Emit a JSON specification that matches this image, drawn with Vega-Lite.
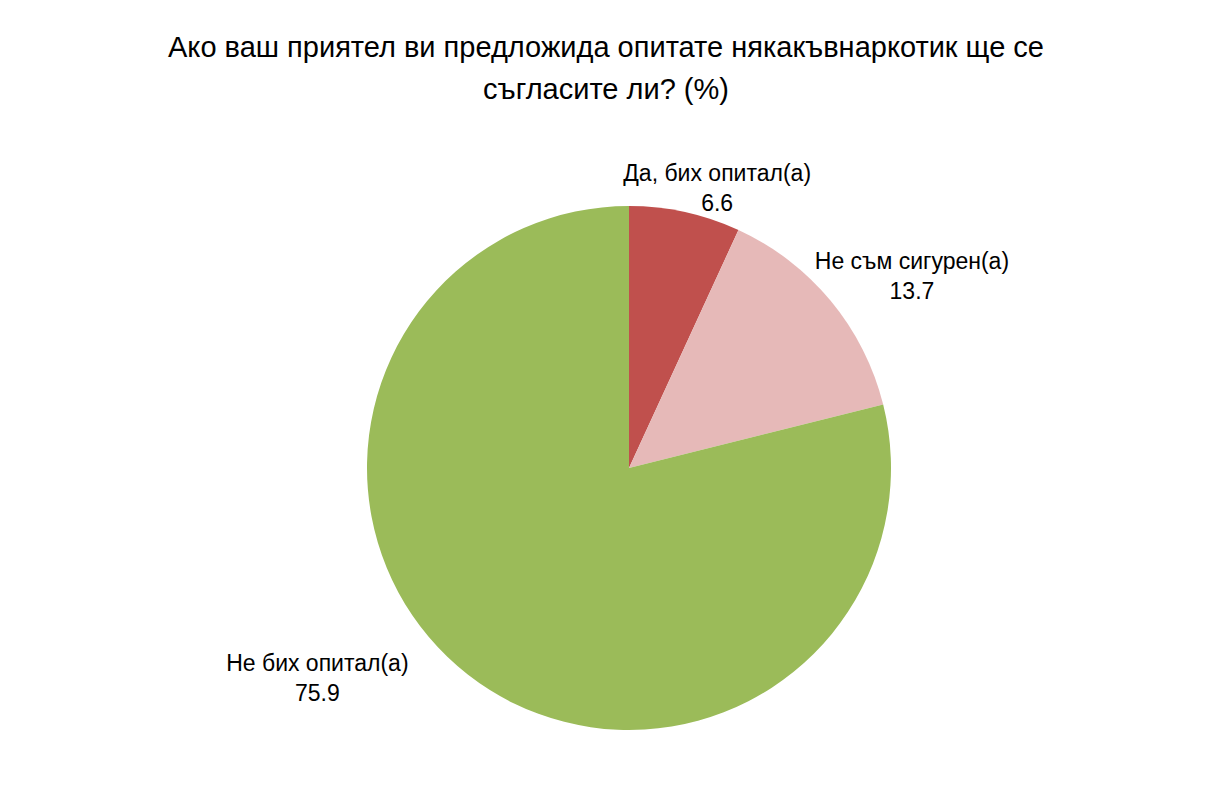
{
  "$schema": "https://vega.github.io/schema/vega-lite/v6.json",
  "width": 1166,
  "height": 646,
  "autosize": "none",
  "padding": {"left": 46, "top": 145, "right": 0, "bottom": 0},
  "background": "white",
  "config": {"view": {"stroke": null}, "font": "Liberation Sans"},
  "title": {
    "text": ["Ако ваш приятел ви предложида опитате някакъвнаркотик ще се", "съгласите ли? (%)"],
    "font": "Liberation Sans, Arial, sans-serif",
    "fontSize": 29,
    "fontWeight": "normal",
    "color": "black",
    "lineHeight": 42,
    "anchor": "middle",
    "dx": -23,
    "offset": 19
  },
  "data": {
    "values": [
      {"k": 1, "cat": "Да, бих опитал(а)", "value": 6.6, "label": "6.6"},
      {"k": 2, "cat": "Не съм сигурен(а)", "value": 13.7, "label": "13.7"},
      {"k": 3, "cat": "Не бих опитал(а)", "value": 75.9, "label": "75.9"}
    ]
  },
  "encoding": {
    "theta": {"field": "value", "type": "quantitative", "stack": true},
    "order": {"field": "k", "type": "quantitative"}
  },
  "layer": [
    {
      "mark": {"type": "arc", "outerRadius": 262},
      "encoding": {
        "color": {
          "field": "cat",
          "type": "nominal",
          "scale": {
            "domain": ["Да, бих опитал(а)", "Не съм сигурен(а)", "Не бих опитал(а)"],
            "range": ["#C0504D", "#E6B9B8", "#9BBB59"]
          },
          "legend": null
        }
      }
    },
    {
      "transform": [{"calculate": "[datum.cat, datum.label]", "as": "txt"}],
      "mark": {"type": "text", "radius": 300, "dx": 24, "dy": -1, "fontSize": 23, "lineHeight": 30, "color": "black", "font": "Liberation Sans, Arial, sans-serif", "baseline": "middle", "align": "center"},
      "encoding": {"text": {"condition": {"test": "datum.k == 1", "field": "txt"}, "value": ""}}
    },
    {
      "transform": [{"calculate": "[datum.cat, datum.label]", "as": "txt"}],
      "mark": {"type": "text", "radius": 300, "dx": 52, "dy": -15, "fontSize": 23, "lineHeight": 30, "color": "black", "font": "Liberation Sans, Arial, sans-serif", "baseline": "middle", "align": "center"},
      "encoding": {"text": {"condition": {"test": "datum.k == 2", "field": "txt"}, "value": ""}}
    },
    {
      "transform": [{"calculate": "[datum.cat, datum.label]", "as": "txt"}],
      "mark": {"type": "text", "radius": 300, "dx": -127, "dy": -40, "fontSize": 23, "lineHeight": 30, "color": "black", "font": "Liberation Sans, Arial, sans-serif", "baseline": "middle", "align": "center"},
      "encoding": {"text": {"condition": {"test": "datum.k == 3", "field": "txt"}, "value": ""}}
    }
  ]
}
